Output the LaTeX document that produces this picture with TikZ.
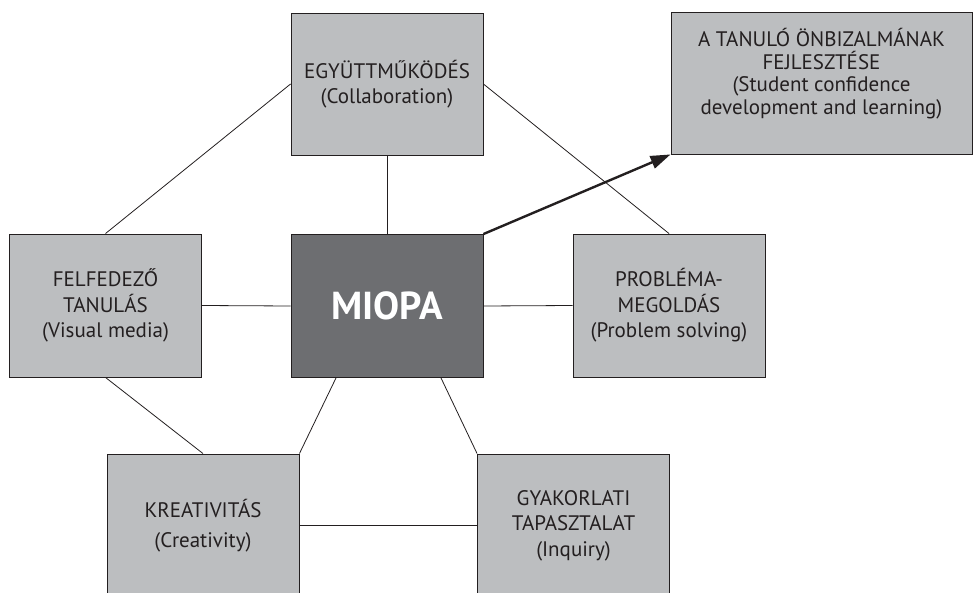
\documentclass[tikz,border=0pt]{standalone}
\usepackage{fontspec}
\setmainfont{PT Sans}
\usetikzlibrary{arrows.meta,calc}
\definecolor{boxfill}{HTML}{BCBEC0}
\definecolor{corefill}{HTML}{6D6E71}
\definecolor{ink}{HTML}{231F20}
\begin{document}
\begin{tikzpicture}[x=1pt,y=-1pt,
  box/.style={draw=ink,fill=boxfill,line width=0.9pt,minimum width=192pt,minimum height=143pt,inner sep=0pt,align=center,text=ink,font=\fontsize{21}{25.5}\selectfont},
  link/.style={draw=ink,line width=0.8pt}]
\useasboundingbox (0,0) rectangle (973,593);
\clip (0,0) rectangle (973,593);
\node[box,minimum height=142pt] (collab) at (387,84) {EGYÜTTMŰKÖDÉS\\(Collaboration)};
\node[box,minimum width=301pt,minimum height=142pt] (conf) at (821.5,83) {};
\node[align=center,text=ink,font=\fontsize{21}{22.5}\selectfont,inner sep=0pt] (conftext) at ([yshift=9.5pt]conf.center) {A TANULÓ ÖNBIZALMÁNAK\\FEJLESZTÉSE\\(Student confidence\\development and learning)};
\node[box] (explore) at (105.5,305.5) {FELFEDEZŐ\\TANULÁS\\(Visual media)};
\node[box,fill=corefill,text=white,font=\bfseries\fontsize{39}{40}\selectfont] (miopa) at (387,306) {MIOPA};
\node[box] (problem) at (669,305.5) {PROBLÉMA-\\MEGOLDÁS\\(Problem solving)};
\node[box,font=\fontsize{21}{30}\selectfont] (creat) at (203,525.5) {KREATIVITÁS\\(Creativity)};
\node[box] (inquiry) at (573.5,525.5) {GYAKORLATI\\TAPASZTALAT\\(Inquiry)};
\draw[link] (collab.west) -- (explore.north);
\draw[link] (collab.east) -- (problem.north);
\draw[link] (collab.south) -- (miopa.north);
\draw[link] (explore.east) -- (miopa.west);
\draw[link] (miopa.east) -- (problem.west);
\draw[link] (explore.south) -- (creat.north);
\draw[link] ([xshift=-51pt]miopa.south) -- (creat.north east);
\draw[link] ([xshift=54pt]miopa.south) -- (inquiry.north west);
\draw[link] (creat.east) -- (inquiry.west);
\draw[ink,line width=2.4pt,-{Triangle[length=20pt,width=13pt]}] (miopa.north east) -- (conf.south west);
\end{tikzpicture}
\end{document}
